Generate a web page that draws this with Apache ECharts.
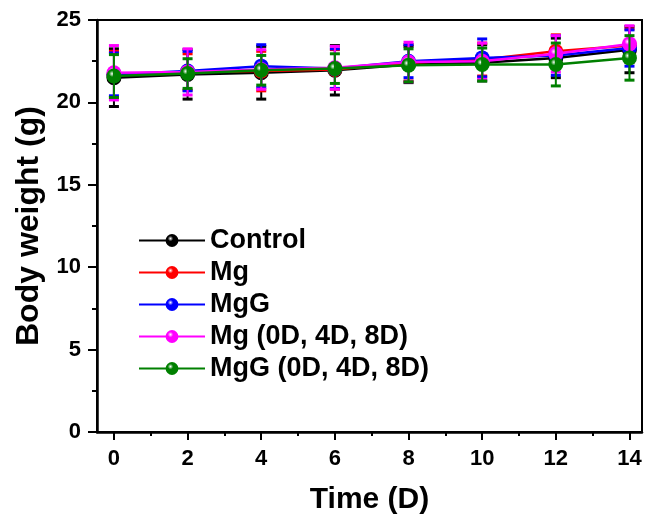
<!DOCTYPE html>
<html>
<head>
<meta charset="utf-8">
<script src="https://cdn.jsdelivr.net/npm/echarts@6/dist/echarts.min.js"></script>
<style>
  html, body { margin: 0; padding: 0; background: #fff; }
  #main { width: 646px; height: 524px; }
</style>
</head>
<body>
<div id="main"></div>
<script>
// time points (days)
var days = [0, 2, 4, 6, 8, 10, 12, 14];
var seriesNames = ['Control', 'Mg', 'MgG', 'Mg (0D, 4D, 8D)', 'MgG (0D, 4D, 8D)'];
var seriesColors = ['#000000', '#ff0000', '#0000ff', '#ff00ff', '#008000'];

// mean body weight (g)
var control = [21.5, 21.7, 21.8, 21.95, 22.3, 22.4, 22.7, 23.2];
var mg      = [21.7, 21.85, 21.9, 22.0, 22.4, 22.6, 23.1, 23.45];
var mgG     = [21.7, 21.9, 22.2, 22.05, 22.5, 22.7, 22.85, 23.3];
var mg048   = [21.8, 21.85, 22.0, 22.1, 22.45, 22.5, 22.95, 23.55];
var mgG048  = [21.6, 21.75, 21.95, 22.05, 22.25, 22.3, 22.3, 22.7];

// standard deviations
var controlErr = [1.75, 1.5, 1.6, 1.5, 1.1, 1.1, 1.2, 1.4];
var mgErr      = [1.4, 1.1, 1.2, 1.2, 1.1, 1.0, 1.0, 1.0];
var mgGErr     = [1.3, 1.2, 1.3, 1.2, 1.0, 1.15, 1.2, 1.1];
var mg048Err   = [1.65, 1.4, 1.2, 1.3, 1.2, 1.1, 1.1, 1.1];
var mgG048Err  = [1.3, 0.9, 0.9, 0.9, 1.0, 1.0, 1.3, 1.35];

var xMajor = [0, 2, 4, 6, 8, 10, 12, 14];
var xMinor = [1, 3, 5, 7, 9, 11, 13];

var means = [control, mg, mgG, mg048, mgG048];
var errs = [controlErr, mgErr, mgGErr, mg048Err, mgG048Err];

var font = 'Arial, "Liberation Sans", sans-serif';

// shaded "ball" look for the markers
function ball(color) {
  return {
    type: 'radial', x: 0.38, y: 0.35, r: 0.7,
    colorStops: [
      { offset: 0, color: '#ffffff' },
      { offset: 0.3, color: color },
      { offset: 1, color: color }
    ]
  };
}

var myChart = echarts.init(document.getElementById('main'));

var series = [];
for (var i = 0; i < seriesNames.length; i++) {
  var pts = [];
  var bars = [];
  for (var j = 0; j < days.length; j++) {
    pts.push([days[j], means[i][j]]);
    bars.push([days[j], means[i][j] - errs[i][j], means[i][j] + errs[i][j]]);
  }
  series.push({
    name: seriesNames[i],
    type: 'line',
    data: pts,
    symbol: 'circle',
    symbolSize: 15,
    z: 2 + i * 2,
    lineStyle: { color: seriesColors[i], width: 2.5 },
    itemStyle: { color: ball(seriesColors[i]), borderWidth: 0 },
    emphasis: { disabled: true }
  });
  // error bars
  series.push({
    name: seriesNames[i] + ' err',
    type: 'custom',
    data: bars,
    z: 3 + i * 2,
    silent: true,
    renderItem: (function (col) {
      return function (params, api) {
        var lo = api.coord([api.value(0), api.value(1)]);
        var hi = api.coord([api.value(0), api.value(2)]);
        var w = 5;
        return {
          type: 'group',
          children: [
            { type: 'line', shape: { x1: lo[0], y1: lo[1], x2: hi[0], y2: hi[1] }, style: { stroke: col, lineWidth: 2 } },
            { type: 'line', shape: { x1: lo[0] - w, y1: lo[1], x2: lo[0] + w, y2: lo[1] }, style: { stroke: col, lineWidth: 3 } },
            { type: 'line', shape: { x1: hi[0] - w, y1: hi[1], x2: hi[0] + w, y2: hi[1] }, style: { stroke: col, lineWidth: 3 } }
          ]
        };
      };
    })(seriesColors[i])
  });
}

var option = {
  animation: false,
  textStyle: { fontFamily: font },
  grid: {
    left: 97, right: 4, top: 20, bottom: 92,
    show: true, borderColor: '#000', borderWidth: 2
  },
  legend: {
    data: seriesNames,
    orient: 'vertical',
    left: 133,
    top: 222,
    itemWidth: 66,
    itemHeight: 16,
    itemGap: 5,
    textStyle: { fontSize: 27, fontWeight: 'bold', color: '#000', fontFamily: font }
  },
  xAxis: [{
    type: 'value',
    min: -0.46,
    max: 14.34,
    name: 'Time (D)',
    nameLocation: 'middle',
    nameGap: 53,
    nameTextStyle: { fontSize: 30, fontWeight: 'bold', color: '#000' },
    axisLine: { show: true, onZero: false, lineStyle: { color: '#000', width: 2.5 } },
    axisTick: { show: true, customValues: xMajor, length: 8, lineStyle: { width: 2 } },
    axisLabel: { customValues: xMajor, margin: 16, fontSize: 22, fontWeight: 'bold', color: '#000' },
    splitLine: { show: false }
  }, {
    type: 'value',
    position: 'bottom',
    min: -0.46,
    max: 14.34,
    axisLine: { show: false },
    axisTick: { show: true, customValues: xMinor, length: 4, lineStyle: { width: 2, color: '#000' } },
    axisLabel: { show: false },
    splitLine: { show: false }
  }],
  yAxis: {
    type: 'value',
    min: 0,
    max: 25,
    interval: 5,
    name: 'Body weight (g)',
    nameLocation: 'middle',
    nameGap: 51,
    nameTextStyle: { fontSize: 32, fontWeight: 'bold', color: '#000' },
    axisLine: { show: true, onZero: false, lineStyle: { color: '#000', width: 2.5 } },
    axisTick: { show: true, length: 9, lineStyle: { width: 2 } },
    minorTick: { show: true, splitNumber: 2, length: 5, lineStyle: { color: '#000', width: 2 } },
    axisLabel: { margin: 16, fontSize: 22, fontWeight: 'bold', color: '#000' },
    splitLine: { show: false }
  },
  series: series
};

myChart.setOption(option);
</script>
</body>
</html>
